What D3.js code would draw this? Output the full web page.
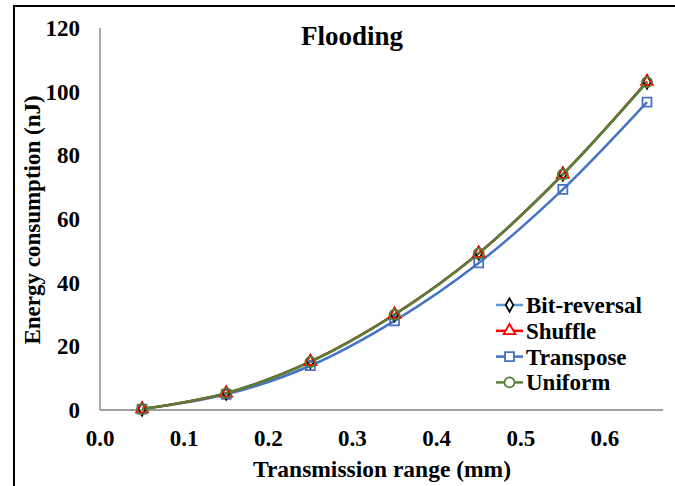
<!DOCTYPE html>
<html>
<head>
<meta charset="utf-8">
<script src="https://d3js.org/d3.v7.min.js"></script>
<style>
  body { margin: 0; background: #fff; }
  text { font-family: "Liberation Serif", "Times New Roman", serif; font-weight: bold; fill: #000; }
</style>
</head>
<body>
<svg width="675" height="486"></svg>
<script>
var ranges = [0.05, 0.15, 0.25, 0.35, 0.45, 0.55, 0.65];
var bitReversal = [0.3, 5.3, 15.2, 30.0, 49.3, 74.1, 103.0];
var shuffle     = [0.3, 5.3, 15.2, 30.0, 49.2, 74.0, 103.2];
var transpose   = [0.3, 4.9, 13.9, 28.0, 46.2, 69.3, 96.7];
var uniform     = [0.3, 5.3, 15.1, 29.9, 49.2, 74.0, 103.0];
var xTicks = [0, 0.1, 0.2, 0.3, 0.4, 0.5, 0.6];
var yTicks = [0, 20, 40, 60, 80, 100, 120];

var series = [
  {name: "Transpose", values: transpose, color: "#4472C4", marker: "square", mstroke: "#4472C4"},
  {name: "Bit-reversal", values: bitReversal, color: "#5B9BD5", marker: "diamond", mstroke: "#000"},
  {name: "Shuffle", values: shuffle, color: "#FF0000", marker: "triangle", mstroke: "#FF0000"},
  {name: "Uniform", values: uniform, color: "#548235", marker: "circle", mstroke: "#548235"}
];
var legendOrder = ["Bit-reversal", "Shuffle", "Transpose", "Uniform"];

var svg = d3.select("svg");

// outer frame (left and top edges visible)
svg.append("path").attr("d", "M14,486 V6 H675").attr("fill", "none").attr("stroke", "#000").attr("stroke-width", 2);

var x = d3.scaleLinear().domain([0, 0.669]).range([100, 663]);
var y = d3.scaleLinear().domain([0, 120]).range([410, 28]);

// axes
svg.append("line").attr("x1", x(0)).attr("x2", x(0.669)).attr("y1", y(0)).attr("y2", y(0)).attr("stroke", "#7f7f7f").attr("stroke-width", 1.3);
svg.append("line").attr("x1", x(0)).attr("x2", x(0)).attr("y1", y(0)).attr("y2", y(120)).attr("stroke", "#7f7f7f").attr("stroke-width", 1.3);

svg.selectAll(".ytl").data(yTicks).enter().append("text")
  .attr("x", 80).attr("y", function(d) { return y(d) + 8; })
  .attr("text-anchor", "end").style("font-size", "23px")
  .text(function(d) { return d; });

svg.selectAll(".xtl").data(xTicks).enter().append("text")
  .attr("x", function(d) { return x(d); }).attr("y", 446)
  .attr("text-anchor", "middle").style("font-size", "23px")
  .text(function(d) { return d.toFixed(1); });

svg.append("text").attr("x", 352).attr("y", 45).attr("text-anchor", "middle")
  .style("font-size", "27px").text("Flooding");

svg.append("text").attr("x", 382).attr("y", 477).attr("text-anchor", "middle")
  .style("font-size", "23.5px").text("Transmission range (mm)");

svg.append("text").attr("transform", "translate(40,220) rotate(-90)").attr("text-anchor", "middle")
  .style("font-size", "23px").text("Energy consumption (nJ)");

var line = d3.line()
  .x(function(d, i) { return x(ranges[i]); })
  .y(function(d) { return y(d); })
  .curve(d3.curveCatmullRom.alpha(0.5));

var symbols = {
  square: d3.symbol().type(d3.symbolSquare).size(80),
  diamond: d3.symbol().type(d3.symbolDiamond).size(50),
  triangle: d3.symbol().type(d3.symbolTriangle).size(60),
  circle: d3.symbol().type(d3.symbolCircle).size(80)
};

series.forEach(function(s) {
  svg.append("path").attr("d", line(s.values)).attr("fill", "none")
    .attr("stroke", s.color).attr("stroke-width", 2.5);
});
series.forEach(function(s) {
  svg.selectAll(null).data(s.values).enter().append("path")
    .attr("d", symbols[s.marker])
    .attr("transform", function(d, i) { return "translate(" + x(ranges[i]) + "," + y(d) + ")"; })
    .attr("fill", "none").attr("stroke", s.mstroke).attr("stroke-width", 1.8);
});

// legend
var lg = svg.append("g");
legendOrder.forEach(function(name, i) {
  var s = series.find(function(d) { return d.name === name; });
  var ly = 305 + i * 25.8;
  lg.append("line").attr("x1", 496).attr("x2", 523).attr("y1", ly).attr("y2", ly)
    .attr("stroke", s.color).attr("stroke-width", 2.5);
  lg.append("path").attr("d", symbols[s.marker]).attr("transform", "translate(509.5," + ly + ")")
    .attr("fill", "#fff").attr("stroke", s.mstroke).attr("stroke-width", 1.8);
  lg.append("text").attr("x", 526).attr("y", ly + 8).style("font-size", "23px").text(name);
});
</script>
</body>
</html>
